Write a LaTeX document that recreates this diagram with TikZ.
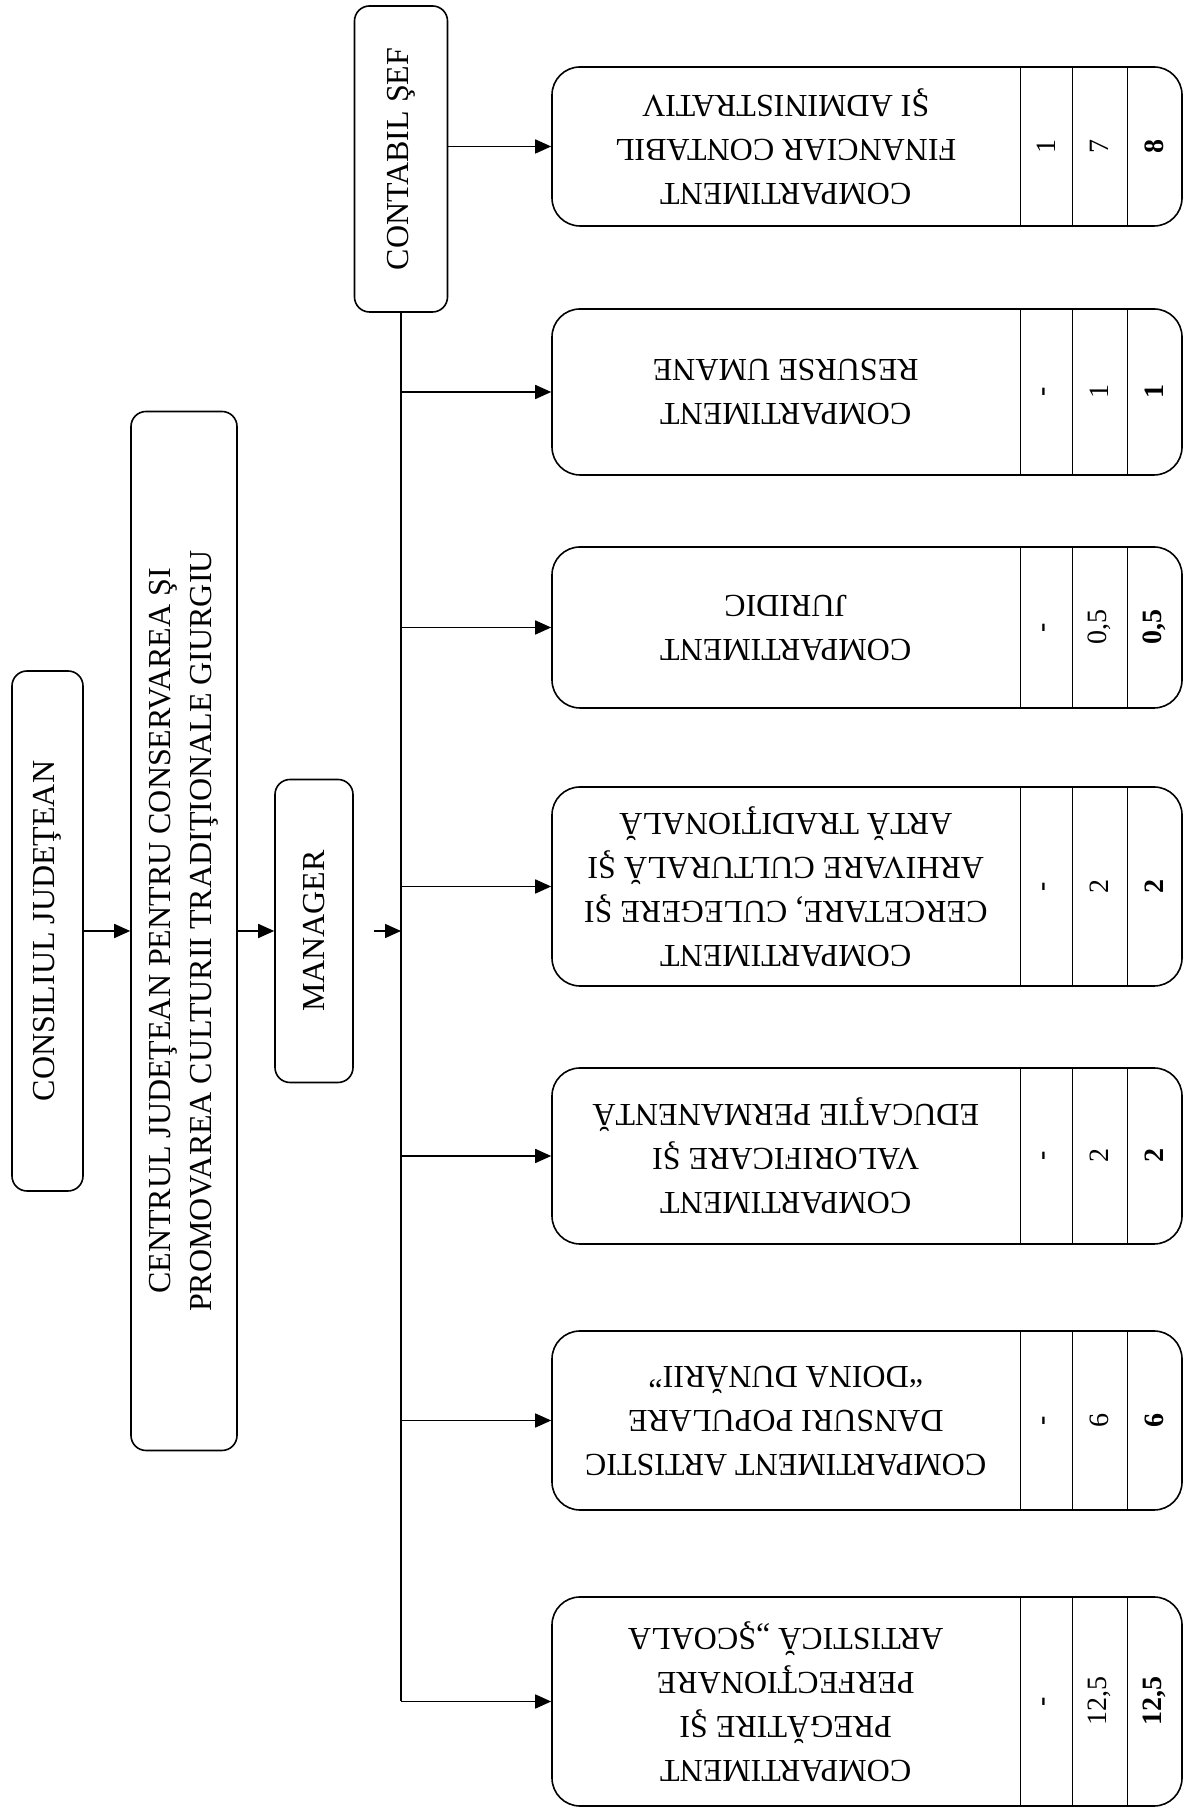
\documentclass[tikz,border=0pt]{standalone}
\usepackage{fontspec}
\setmainfont{Liberation Serif}
\usetikzlibrary{calc}
\usetikzlibrary{positioning}
\usetikzlibrary{arrows.meta}
\tikzstyle{orgnode} = [draw, rectangle, rounded corners=15pt, rotate=90, inner sep=0, align=center, line width=1.6pt]
\tikzstyle{compnode} = [draw, rectangle, rounded corners=28pt, inner sep=0, minimum width=630pt, line width=1.6pt]
\tikzstyle{comptext} = [rotate=180, align=center, inner sep=0, font=\fontsize{32}{44}\selectfont]
\tikzstyle{numnode} = [rotate=90, inner sep=0, font=\fontsize{28}{30}\selectfont]
\tikzstyle{rule} = [line width=1.4pt]
\tikzstyle{link} = [line width=1.6pt, -{Triangle[length=16pt,width=14pt]}]
\newcommand{\colrules}[1]{%
  \draw[rule] ($(#1.north west)+(469,0)$) -- ($(#1.south west)+(469,0)$);
  \draw[rule] ($(#1.north west)+(521,0)$) -- ($(#1.south west)+(521,0)$);
  \draw[rule] ($(#1.north west)+(576,0)$) -- ($(#1.south west)+(576,0)$);}

\begin{document}
\begin{tikzpicture}[x=1pt, y=1pt, font=\fontsize{32}{41}\selectfont]
\useasboundingbox (0,0) rectangle (1184,1815);

\node[orgnode, minimum width=520pt, minimum height=71pt] (consiliul) at (47.5,884) {CONSILIUL JUDEŢEAN};
\node[orgnode, minimum width=1039pt, minimum height=106pt] (centrul) at (184,884)
{CENTRUL JUDEŢEAN PENTRU CONSERVAREA ŞI\\PROMOVAREA CULTURII TRADIŢIONALE GIURGIU};
\node[orgnode, minimum width=303pt, minimum height=78pt] (manager) at (314,884) {MANAGER};
\node[orgnode, minimum width=306pt, minimum height=93pt] (contabil) at (401,1656) {CONTABIL ŞEF};

\node[compnode, minimum height=159pt] (c1) at (867,1668.5) {};
\node[compnode, minimum height=166pt] (c2) at (867,1423) {};
\node[compnode, minimum height=161pt] (c3) at (867,1187.5) {};
\node[compnode, minimum height=199pt] (c4) at (867,928.5) {};
\node[compnode, minimum height=176pt] (c5) at (867,659) {};
\node[compnode, minimum height=179pt] (c6) at (867,394.5) {};
\node[compnode, minimum height=209pt] (c7) at (867,113.5) {};
\colrules{c1}\colrules{c2}\colrules{c3}\colrules{c4}\colrules{c5}\colrules{c6}\colrules{c7}

\node[comptext] (t1) at ($(c1.west)+(234.5,0)$) {COMPARTIMENT\\FINANCIAR CONTABIL\\ŞI ADMINISTRATIV};
\node[comptext] (t2) at ($(c2.west)+(234.5,0)$) {COMPARTIMENT\\RESURSE UMANE};
\node[comptext] (t3) at ($(c3.west)+(234.5,0)$) {COMPARTIMENT\\JURIDIC};
\node[comptext] (t4) at ($(c4.west)+(234.5,0)$) {COMPARTIMENT\\CERCETARE, CULEGERE ŞI\\ARHIVARE CULTURALĂ ŞI\\ARTĂ TRADIŢIONALĂ};
\node[comptext] (t5) at ($(c5.west)+(234.5,0)$) {COMPARTIMENT\\VALORIFICARE ŞI\\EDUCAŢIE PERMANENTĂ};
\node[comptext] (t6) at ($(c6.west)+(234.5,0)$) {COMPARTIMENT ARTISTIC\\DANSURI POPULARE\\“DOINA DUNĂRII”};
\node[comptext] (t7) at ($(c7.west)+(234.5,0)$) {COMPARTIMENT\\PREGĂTIRE ŞI\\PERFECŢIONARE\\ARTISTICĂ „ŞCOALA};

\node[numnode] (n1a) at ($(c1.west)+(495,0)$) {1};
\node[numnode] (n1b) at ($(c1.west)+(548.5,0)$) {7};
\node[numnode] (n1c) at ($(c1.west)+(603,0)$) {\bfseries 8};
\node[numnode] (n2a) at ($(c2.west)+(495,0)$) {\bfseries -};
\node[numnode] (n2b) at ($(c2.west)+(548.5,0)$) {1};
\node[numnode] (n2c) at ($(c2.west)+(603,0)$) {\bfseries 1};
\node[numnode] (n3a) at ($(c3.west)+(495,0)$) {\bfseries -};
\node[numnode] (n3b) at ($(c3.west)+(548.5,0)$) {0,5};
\node[numnode] (n3c) at ($(c3.west)+(603,0)$) {\bfseries 0,5};
\node[numnode] (n4a) at ($(c4.west)+(495,0)$) {\bfseries -};
\node[numnode] (n4b) at ($(c4.west)+(548.5,0)$) {2};
\node[numnode] (n4c) at ($(c4.west)+(603,0)$) {\bfseries 2};
\node[numnode] (n5a) at ($(c5.west)+(495,0)$) {\bfseries -};
\node[numnode] (n5b) at ($(c5.west)+(548.5,0)$) {2};
\node[numnode] (n5c) at ($(c5.west)+(603,0)$) {\bfseries 2};
\node[numnode] (n6a) at ($(c6.west)+(495,0)$) {\bfseries -};
\node[numnode] (n6b) at ($(c6.west)+(548.5,0)$) {6};
\node[numnode] (n6c) at ($(c6.west)+(603,0)$) {\bfseries 6};
\node[numnode] (n7a) at ($(c7.west)+(495,0)$) {\bfseries -};
\node[numnode] (n7b) at ($(c7.west)+(548.5,0)$) {12,5};
\node[numnode] (n7c) at ($(c7.west)+(603,0)$) {\bfseries 12,5};

\draw[link] (consiliul) -- (centrul);
\draw[link] (centrul) -- (manager);
\draw[link] ([xshift=20pt]manager.south) -- (manager -| contabil);
\draw[line width=1.6pt] (contabil.west) -- (contabil.west |- c7);
\draw[link] (contabil.south |- c1) -- (c1);
\draw[link] (contabil.west |- c2) -- (c2);
\draw[link] (contabil.west |- c3) -- (c3);
\draw[link] (contabil.west |- c4) -- (c4);
\draw[link] (contabil.west |- c5) -- (c5);
\draw[link] (contabil.west |- c6) -- (c6);
\draw[link] (contabil.west |- c7) -- (c7);
\end{tikzpicture}
\end{document}
